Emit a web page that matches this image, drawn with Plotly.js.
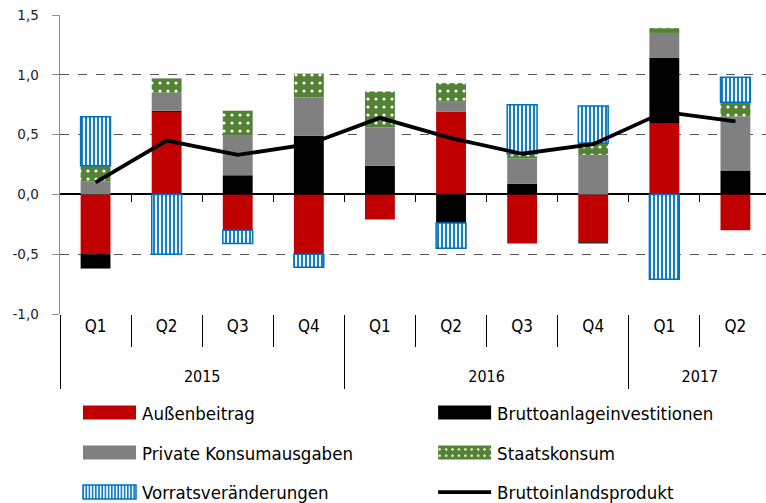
<!DOCTYPE html>
<html>
<head>
<meta charset="utf-8">
<script src="https://cdn.plot.ly/plotly-3.0.1.min.js"></script>
<style>html,body{margin:0;padding:0;overflow:hidden;background:#fff}#chart{width:766px;height:503px}</style>
</head>
<body>
<div id="chart"></div>
<script>
// ---- data ----
const quarters = ["Q1","Q2","Q3","Q4","Q1","Q2","Q3","Q4","Q1","Q2"];
const years = ["2015","2016","2017"];
const yearCounts = [4,4,2];
const yTicks = [-1.0, -0.5, 0.0, 0.5, 1.0, 1.5];
const aussenbeitrag = [-0.50, 0.69, -0.30, -0.50, -0.21, 0.69, -0.41, -0.40, 0.59, -0.30];
const bruttoanlage  = [-0.12, 0.01, 0.16, 0.49, 0.24, -0.24, 0.09, -0.01, 0.55, 0.20];
const privKonsum    = [0.11, 0.15, 0.33, 0.32, 0.32, 0.09, 0.21, 0.33, 0.21, 0.45];
const staatskonsum  = [0.13, 0.12, 0.21, 0.20, 0.30, 0.15, 0.04, 0.10, 0.04, 0.12];
const vorrat        = [0.41, -0.50, -0.11, -0.11, null, -0.21, 0.41, 0.31, -0.71, 0.21];
const bip           = [0.10, 0.45, 0.33, 0.42, 0.64, 0.47, 0.34, 0.42, 0.69, 0.61];

// ---- derived positions ----
const xIdx = quarters.map((_, i) => i);
const quarterBounds = [];
const yearBounds = [-0.5];
const yearCenters = [];
let start = 0;
yearCounts.forEach(n => {
  for (let k = 1; k < n; k++) quarterBounds.push(start + k - 0.5);
  yearCenters.push(start + (n - 1) / 2);
  start += n;
  yearBounds.push(start - 0.5);
});
const allBounds = xIdx.slice(0, -1).map(i => i + 0.5);
const yTickText = yTicks.map(v => v.toFixed(1).replace('.', ','));

const F = "DejaVu Sans Condensed, DejaVu Sans, sans-serif";
const xr = [-0.5, 9.43];

function bar(name, y, marker, legend) {
  return {type:'bar', name, x:xIdx, y, legend, marker, hoverinfo:'skip'};
}
const traces = [
  bar('Außenbeitrag', aussenbeitrag, {color:'#C00000', line:{width:0}}, 'legend'),
  bar('Bruttoanlageinvestitionen', bruttoanlage, {color:'#000000', line:{width:0}}, 'legend2'),
  bar('Private Konsumausgaben', privKonsum, {color:'#808080', line:{width:0}}, 'legend3'),
  bar('Staatskonsum', staatskonsum, {color:'#548235', line:{width:0},
      pattern:{shape:'.', bgcolor:'#548235', fgcolor:'#ffffff', size:8, solidity:0.12}}, 'legend4'),
  bar('Vorratsveränderungen', vorrat, {color:'#DEEBF7', line:{width:1.5, color:'#0070C0'},
      pattern:{shape:'|', bgcolor:'#eef5fc', fgcolor:'#0070C0', size:4, solidity:0.45}}, 'legend5'),
  {type:'scatter', mode:'lines', name:'Bruttoinlandsprodukt', x:xIdx, y:bip, legend:'legend6',
   line:{color:'#000000', width:3.8}, hoverinfo:'skip'}
];
// invisible helper traces so the decorative axes get drawn
['x2','x3','x4','x5'].forEach(ax => traces.push({type:'scatter', mode:'markers', x:[0], y:[0],
  xaxis:ax, yaxis:'y', marker:{opacity:0, size:1}, showlegend:false, hoverinfo:'skip'}));

const col1 = 0.017, col2 = 0.52;
const rowY = [-0.331, -0.465, -0.597];
function leg(x, y) {
  return {orientation:'v', xanchor:'left', yanchor:'middle', x, y,
    font:{family:F, size:18.5, color:'#000'}, bgcolor:'rgba(0,0,0,0)', itemwidth:60};
}

const layout = {
  width:766, height:503,
  margin:{l:60, r:0, t:15, b:189, autoexpand:false},
  paper_bgcolor:'#fff', plot_bgcolor:'#fff',
  separators:', ',
  barmode:'relative', bargap:0.58,
  showlegend:true,
  legend: leg(col1, rowY[0]), legend2: leg(col2, rowY[0]),
  legend3: leg(col1, rowY[1]), legend4: leg(col2, rowY[1]),
  legend5: leg(col1, rowY[2]), legend6: leg(col2, rowY[2]),
  yaxis:{range:[-1,1.5], tickmode:'array', tickvals:yTicks, ticktext:yTickText, showgrid:true,
    gridcolor:'#555', griddash:'dash', gridwidth:1,
    zeroline:true, zerolinecolor:'#000', zerolinewidth:2,
    showline:true, linecolor:'#8c8c8c', linewidth:1.5,
    ticks:'outside', ticklen:7, tickcolor:'#8c8c8c', ticklabelstandoff:10,
    tickfont:{family:'DejaVu Sans, sans-serif', size:13.5, color:'#222'}, fixedrange:true},
  xaxis:{type:'linear', range:xr, tickmode:'array', tickvals:xIdx, ticktext:quarters,
    ticks:'', showgrid:false, zeroline:false, showline:false,
    tickfont:{family:F, size:17, color:'#000'}, fixedrange:true},
  xaxis2:{type:'linear', range:xr, overlaying:'x', anchor:'y', tickmode:'array',
    tickvals:quarterBounds, showticklabels:false, ticks:'outside', ticklen:32,
    tickcolor:'#000', tickwidth:1, showgrid:false, zeroline:false, showline:false, fixedrange:true},
  xaxis3:{type:'linear', range:xr, overlaying:'x', anchor:'y', tickmode:'array',
    tickvals:yearBounds, showticklabels:false, ticks:'outside', ticklen:74,
    tickcolor:'#000', tickwidth:1, showgrid:false, zeroline:false, showline:false, fixedrange:true},
  xaxis4:{type:'linear', range:xr, overlaying:'x', anchor:'y', tickmode:'array',
    tickvals:yearCenters, ticktext:years, ticks:'', ticklabelstandoff:51,
    tickfont:{family:F, size:16, color:'#000'},
    showgrid:false, zeroline:false, showline:false, fixedrange:true},
  xaxis5:{type:'linear', range:xr, overlaying:'x', anchor:'free', position:0.4, tickmode:'array',
    tickvals:allBounds, showticklabels:false, ticks:'outside', ticklen:7,
    tickcolor:'#000', tickwidth:1.2, showgrid:false, zeroline:false, showline:false, fixedrange:true}
};

Plotly.newPlot('chart', traces, layout, {displayModeBar:false, staticPlot:true}).then(gd => {
  // widen legend symbols to match the reference
  gd.querySelectorAll('.infolayer g.traces').forEach(item => {
    const txt = item.querySelector('text.legendtext');
    const tx = txt ? parseFloat(txt.getAttribute('x')) : 70;
    const itemM = item.getCTM();
    const x0 = tx - 59, x1 = tx - 6;
    item.querySelectorAll('g.legendpoints path, g.legendfill path').forEach(p => {
      const m = itemM.inverse().multiply(p.getCTM());
      p.setAttribute('d', `M${x0-m.e},${7-m.f}H${x1-m.e}V${-7-m.f}H${x0-m.e}Z`);
    });
    item.querySelectorAll('g.legendlines path').forEach(p => {
      const m = itemM.inverse().multiply(p.getCTM());
      p.setAttribute('d', `M${x0-m.e},${-m.f}H${x1-m.e}`);
    });
  });
});
</script>
</body>
</html>
